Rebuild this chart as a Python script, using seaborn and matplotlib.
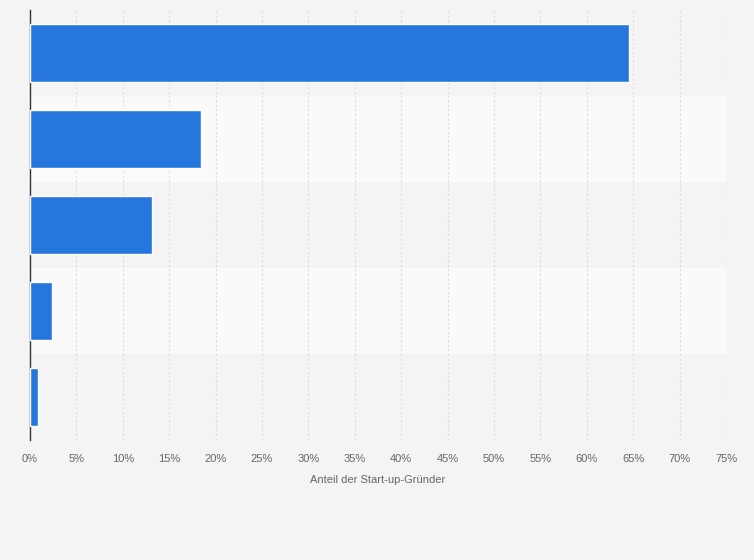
import matplotlib
matplotlib.use("Agg")
import matplotlib.pyplot as plt
import seaborn as sns
import pandas as pd

categories = ["A", "B", "C", "D", "E"]
values = [64.6, 18.4, 13.2, 2.4, 0.9]
ticks = list(range(0, 80, 5))
tick_labels = [f"{t}%" for t in ticks]

df = pd.DataFrame({"cat": categories, "val": values})
sns.set_style("white")
plt.rcParams['font.family'] = ['Liberation Sans', 'DejaVu Sans']

fig = plt.figure(figsize=(7.54, 5.6), dpi=100)
fig.patch.set_facecolor("#f4f4f4")
ax = fig.add_axes([30/754, 1-440/560, 696/754, 430/560])
ax.set_facecolor("#f4f4f4")
for i in range(len(categories)):
    ax.axhspan(i-0.5, i+0.5, color="#f4f4f4" if i % 2 == 0 else "#fafafa", zorder=0, lw=0)
sns.barplot(data=df, x="val", y="cat", orient="h", color="#2677dd", saturation=1, width=0.68, ax=ax, zorder=3)
ax.set_xlim(0, 75)
ax.set_ylim(len(categories)-0.5, -0.5)
ax.set_xticks(ticks)
ax.set_xticklabels(tick_labels, fontsize=8, color="#666666")
ax.tick_params(axis="x", length=0, pad=10)
ax.set_yticks([])
ax.set_ylabel("")
ax.set_xlabel("Anteil der Start-up-Gründer", fontsize=8, color="#666666", labelpad=8)
for t in ticks[1:]:
    ax.axvline(t, color="#dddddd", lw=0.8, ls=(0, (2, 2)), zorder=1)
for s in ["top", "right", "bottom"]:
    ax.spines[s].set_visible(False)
ax.spines["left"].set_color("#333333")
ax.spines["left"].set_linewidth(1)
fig.savefig("out.png", dpi=100, facecolor=fig.get_facecolor())
